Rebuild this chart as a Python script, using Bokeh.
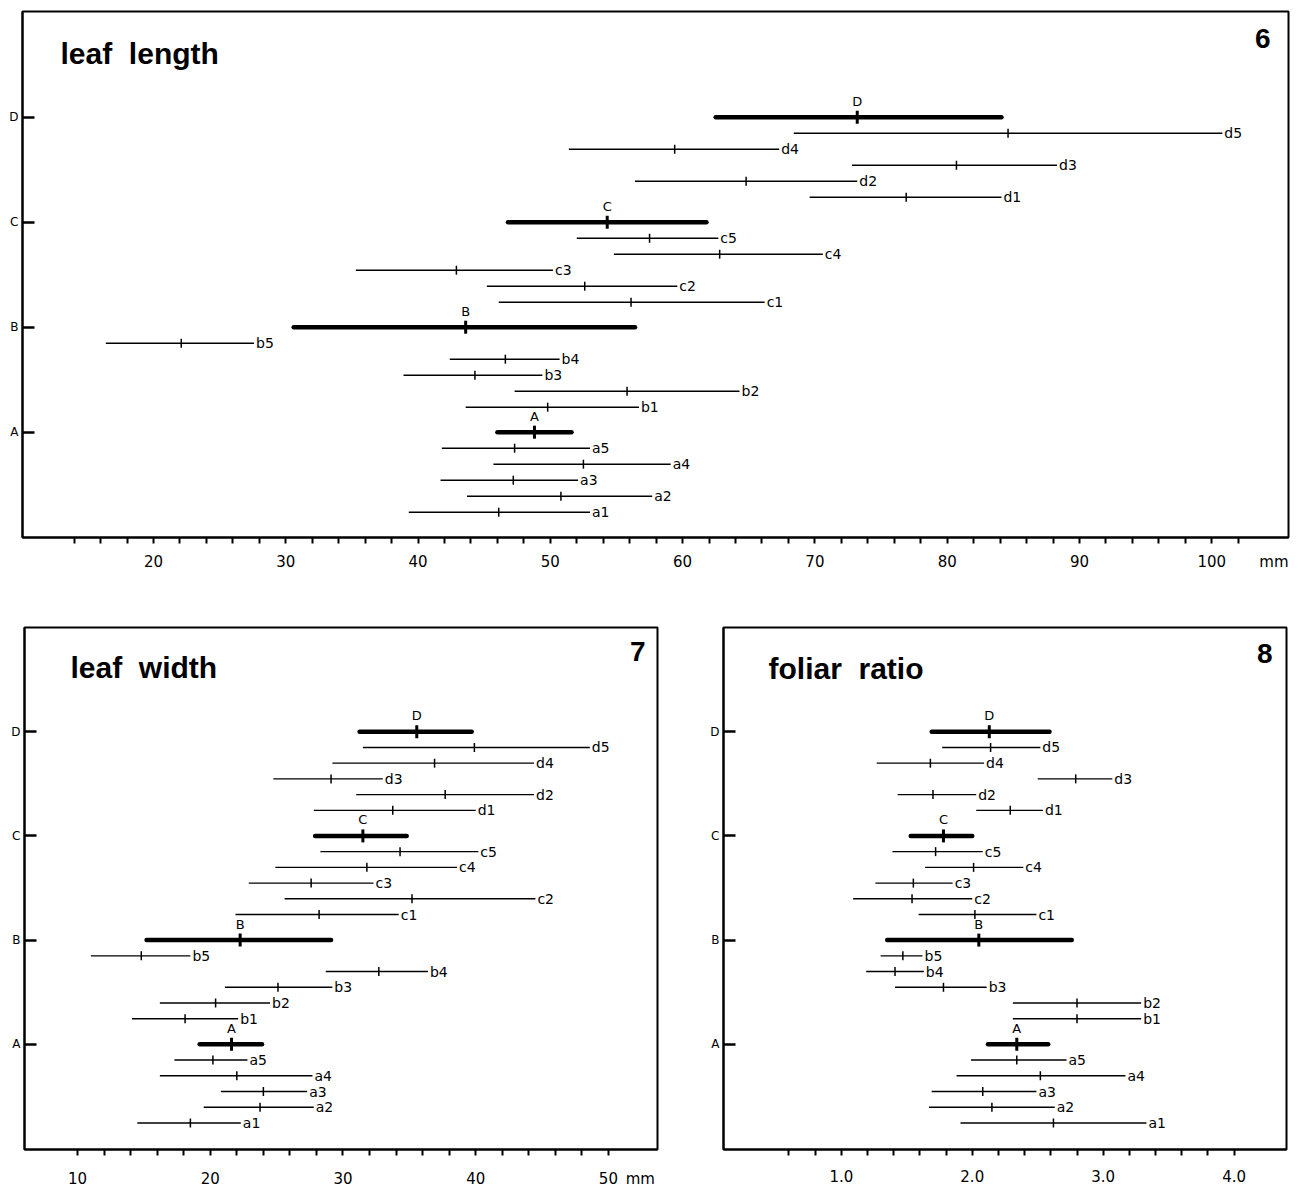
import math
from bokeh.plotting import figure
from bokeh.models import FixedTicker, Label, Spacer, PrintfTickFormatter, Range1d, ColumnDataSource
from bokeh.layouts import column, row
from bokeh.embed import file_html
from bokeh.resources import INLINE
from bokeh.core.properties import value

# ---------------- data ----------------
groups = ["A", "B", "C", "D"]
members = ["a1", "a2", "a3", "a4", "a5",
           "b1", "b2", "b3", "b4", "b5",
           "c1", "c2", "c3", "c4", "c5",
           "d1", "d2", "d3", "d4", "d5"]

# Fig. 6 leaf length (mm): range low, mean, range high
length_lo = [39.3, 43.7, 41.7, 45.7, 41.8,
             43.6, 47.3, 38.9, 42.4, 16.4,
             46.1, 45.2, 35.3, 54.8, 52.0,
             69.6, 56.4, 72.8, 51.4, 68.4]
length_mean = [46.1, 50.8, 47.2, 52.5, 47.3,
               49.8, 55.8, 44.3, 46.6, 22.1,
               56.1, 52.6, 42.9, 62.8, 57.5,
               76.9, 64.8, 80.7, 59.4, 84.6]
length_hi = [53.0, 57.7, 52.1, 59.1, 53.0,
             56.7, 64.3, 49.4, 50.7, 27.6,
             66.2, 59.6, 50.2, 70.6, 62.7,
             84.1, 73.2, 88.3, 67.3, 100.8]
length_grp_lo = [46.0, 30.6, 46.8, 62.5]
length_grp_mean = [48.8, 43.6, 54.3, 73.2]
length_grp_hi = [51.6, 56.4, 61.8, 84.1]

# Fig. 7 leaf width (mm)
width_lo = [14.5, 19.5, 20.8, 16.2, 17.3,
            14.1, 16.2, 21.1, 28.7, 11.0,
            21.9, 25.6, 22.9, 24.9, 28.3,
            27.8, 31.0, 24.75, 29.2, 31.5]
width_mean = [18.5, 23.75, 24.0, 22.0, 20.2,
              18.1, 20.4, 25.1, 32.7, 14.8,
              28.2, 35.2, 27.6, 31.8, 34.3,
              33.75, 37.7, 29.1, 36.9, 39.9]
width_hi = [22.3, 27.8, 27.3, 27.7, 22.8,
            22.1, 24.5, 29.2, 36.4, 18.5,
            34.2, 44.5, 32.3, 38.6, 40.2,
            40.0, 44.4, 33.0, 44.4, 48.6]
width_grp_lo = [19.2, 15.2, 27.9, 31.25]
width_grp_mean = [21.6, 22.25, 31.5, 35.56]
width_grp_hi = [23.9, 29.1, 34.8, 39.7]

# Fig. 8 foliar ratio
ratio_lo = [1.91, 1.67, 1.69, 1.88, 1.99,
            2.31, 2.31, 1.41, 1.19, 1.30,
            1.59, 1.09, 1.26, 1.64, 1.39,
            2.03, 1.43, 2.50, 1.27, 1.77]
ratio_mean = [2.62, 2.15, 2.08, 2.52, 2.34,
              2.80, 2.80, 1.78, 1.41, 1.47,
              2.02, 1.54, 1.55, 2.01, 1.72,
              2.29, 1.70, 2.79, 1.68, 2.14]
ratio_hi = [3.33, 2.63, 2.49, 3.17, 2.72,
            3.29, 3.29, 2.11, 1.63, 1.62,
            2.49, 2.00, 1.85, 2.39, 2.08,
            2.54, 2.03, 3.07, 2.09, 2.52]
ratio_grp_lo = [2.12, 1.35, 1.53, 1.69]
ratio_grp_mean = [2.34, 2.05, 1.78, 2.13]
ratio_grp_hi = [2.58, 2.76, 2.00, 2.59]

# tick labels
length_ticks = [20, 30, 40, 50, 60, 70, 80, 90, 100]
width_ticks = [10, 20, 30, 40, 50]
ratio_ticks = [1.0, 2.0, 3.0, 4.0]
unit_label = "mm"

# ---------------- drawing ----------------
ROW = 16
LBL_FONT = "DejaVu Sans"
TITLE_FONT = "Liberation Sans"
NBSP2 = "\u00a0\u00a0"


def panel(title, number, lo, mean, hi, glo, gmean, ghi,
          xr, frame_w, frame_h, pitch, y_bottom, major, minor, fmt,
          borders, title_pos, num_pos, mm_x=None, tick_out=6, standoff=8):
    bl, br, bt, bb = borders
    y_top = y_bottom + frame_h
    p = figure(width=bl + frame_w + br, height=bt + frame_h + bb,
               x_range=Range1d(xr[0], xr[1]), y_range=Range1d(y_bottom, y_top),
               output_backend="svg", toolbar_location=None,
               min_border_left=bl, min_border_right=br,
               min_border_top=bt, min_border_bottom=bb)
    p.xgrid.visible = False
    p.ygrid.visible = False
    p.outline_line_color = "black"
    p.outline_line_width = 2
    p.background_fill_color = "white"
    p.border_fill_color = "white"

    # rows: group header, then members 5..1 below it
    gy = [groups.index(g) * pitch for g in groups]
    my = [groups.index(m[0].upper()) * pitch - ROW * (6 - int(m[1])) for m in members]

    src = ColumnDataSource(dict(lo=lo, mean=mean, hi=hi, y=my, label=members))
    gsrc = ColumnDataSource(dict(lo=glo, mean=gmean, hi=ghi, y=gy, label=groups))

    p.segment(x0="lo", y0="y", x1="hi", y1="y", source=src,
              line_color="black", line_width=1.4)
    p.scatter(x="mean", y="y", source=src, marker="dash", angle=math.pi / 2,
              size=9, line_color="black", line_width=1.5)
    p.text(x="hi", y="y", text="label", source=src, x_offset=2,
           text_baseline="middle", text_align="left",
           text_font=value(LBL_FONT), text_font_size="14px", text_color="black")

    p.segment(x0="lo", y0="y", x1="hi", y1="y", source=gsrc,
              line_color="black", line_width=4.5, line_cap="round")
    p.scatter(x="mean", y="y", source=gsrc, marker="dash", angle=math.pi / 2,
              size=13, line_color="black", line_width=3)
    p.text(x="mean", y="y", text="label", source=gsrc, y_offset=-16,
           text_baseline="middle", text_align="center",
           text_font=value(LBL_FONT), text_font_size="13px", text_color="black")

    # x axis: all marks drawn as minor ticks, labels on invisible major ticks
    xa = p.xaxis[0]
    ticks = list(major) + ([mm_x] if mm_x is not None else [])
    xa.ticker = FixedTicker(ticks=ticks, minor_ticks=minor)
    xa.formatter = PrintfTickFormatter(format=fmt)
    if mm_x is not None:
        xa.major_label_overrides = {mm_x: unit_label}
    xa.axis_line_width = 2
    xa.axis_line_color = "black"
    xa.major_tick_out = 0
    xa.major_tick_in = 0
    xa.major_tick_line_color = None
    xa.minor_tick_out = tick_out
    xa.minor_tick_in = 0
    xa.minor_tick_line_width = 2
    xa.minor_tick_line_color = "black"
    xa.major_label_standoff = tick_out + standoff
    xa.major_label_text_font = LBL_FONT
    xa.major_label_text_font_size = "15px"
    xa.major_label_text_color = "black"

    # y axis
    ya = p.yaxis[0]
    ya.ticker = FixedTicker(ticks=gy, minor_ticks=[])
    ya.major_label_overrides = {t: g for t, g in zip(gy, groups)}
    ya.axis_line_width = 2
    ya.axis_line_color = "black"
    ya.major_tick_in = 12
    ya.major_tick_out = 0
    ya.major_tick_line_width = 2.5
    ya.major_tick_line_color = "black"
    ya.minor_tick_line_color = None
    ya.major_label_standoff = 4
    ya.major_label_text_font = LBL_FONT
    ya.major_label_text_font_size = "12px"
    ya.major_label_text_color = "black"

    # titles (placed by pixel offsets inside the frame)
    sx = (xr[1] - xr[0]) / frame_w
    p.add_layout(Label(x=xr[0] + title_pos[0] * sx, y=y_top - title_pos[1], text=title,
                       text_font=TITLE_FONT, text_font_style="bold", text_font_size="30px",
                       text_baseline="alphabetic", text_align="left", text_color="black"))
    p.add_layout(Label(x=xr[1] - num_pos[0] * sx, y=y_top - num_pos[1], text=number,
                       text_font=TITLE_FONT, text_font_style="bold", text_font_size="28px",
                       text_baseline="alphabetic", text_align="right", text_color="black"))
    return p


p6 = panel("leaf" + NBSP2 + "length", "6", length_lo, length_mean, length_hi,
           length_grp_lo, length_grp_mean, length_grp_hi,
           xr=(10.1, 105.8), frame_w=1266, frame_h=526, pitch=105, y_bottom=-105.3,
           major=length_ticks, minor=list(range(14, 103, 2)), fmt="%d",
           borders=(22, 4, 11, 50), title_pos=(38, 42), num_pos=(18, 27), mm_x=104.7,
           tick_out=6, standoff=3)

p7 = panel("leaf" + NBSP2 + "width", "7", width_lo, width_mean, width_hi,
           width_grp_lo, width_grp_mean, width_grp_hi,
           xr=(6.0, 53.7), frame_w=633, frame_h=531, pitch=106, y_bottom=-107,
           major=width_ticks, minor=list(range(10, 51, 2)), fmt="%d",
           borders=(24, 10, 40, 32), title_pos=(46, 41), num_pos=(12, 24), mm_x=52.4,
           tick_out=6, standoff=8)

p8 = panel("foliar" + NBSP2 + "ratio", "8", ratio_lo, ratio_mean, ratio_hi,
           ratio_grp_lo, ratio_grp_mean, ratio_grp_hi,
           xr=(0.10, 4.40), frame_w=563, frame_h=531, pitch=106, y_bottom=-107,
           major=ratio_ticks, minor=[round(0.6 + 0.2 * i, 1) for i in range(18)], fmt="%.1f",
           borders=(16, 4, 40, 32), title_pos=(45, 42), num_pos=(14, 26), mm_x=None,
           tick_out=6, standoff=8)

layout = column(p6, row(p7, Spacer(width=40, height=10), p8))

open("out.html", "w").write(file_html(layout, INLINE))
